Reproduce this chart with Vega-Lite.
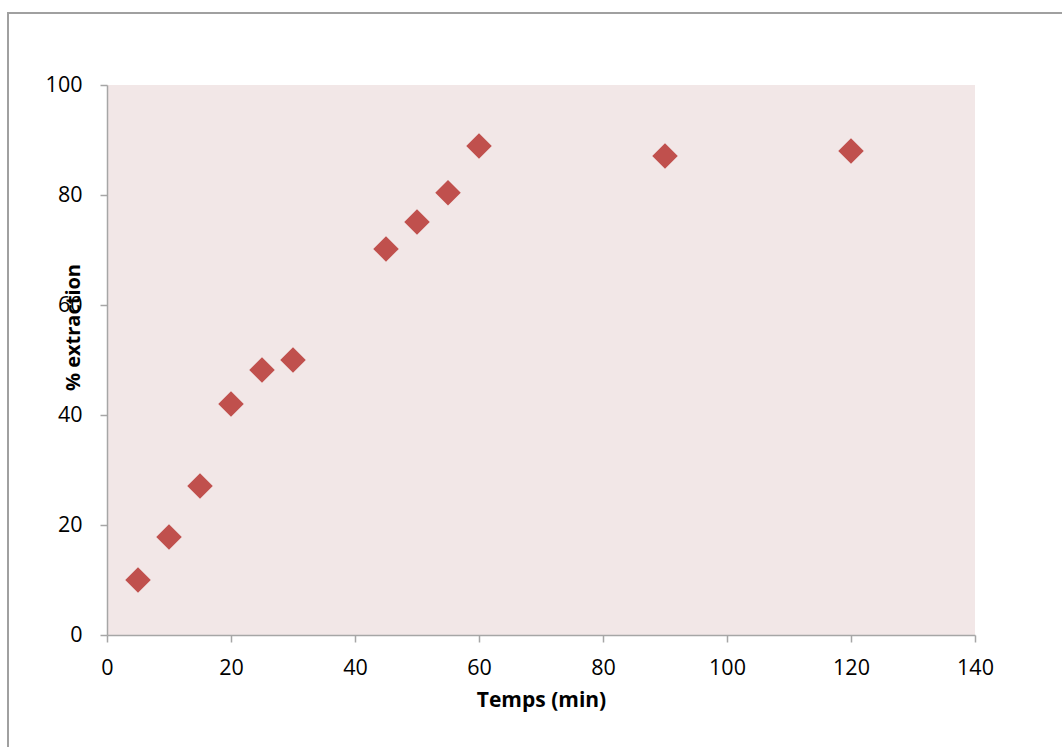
{
  "$schema": "https://vega.github.io/schema/vega-lite/v6.json",
  "autosize": "none",
  "width": 868,
  "height": 550,
  "padding": {"left": 107, "top": 85, "right": 87, "bottom": 112},
  "background": "#ffffff",
  "config": {
    "view": {"fill": "#F2E7E7", "stroke": null},
    "font": "Open Sans",
    "axis": {
      "grid": false,
      "labelFlush": false,
      "domainColor": "#A6A6A6",
      "domainWidth": 1.5,
      "tickColor": "#A6A6A6",
      "tickWidth": 1.5,
      "tickSize": 7,
      "labelFont": "Open Sans",
      "labelFontSize": 21.5,
      "labelColor": "#000000",
      "titleFont": "Open Sans",
      "titleFontSize": 20,
      "titleFontWeight": "bold",
      "titleColor": "#000000"
    }
  },
  "data": {
    "values": [
      {"temps": 5, "extraction": 10.0},
      {"temps": 10, "extraction": 17.8},
      {"temps": 15, "extraction": 27.1},
      {"temps": 20, "extraction": 42.0},
      {"temps": 25, "extraction": 48.2},
      {"temps": 30, "extraction": 50.0},
      {"temps": 45, "extraction": 70.2},
      {"temps": 50, "extraction": 75.1},
      {"temps": 55, "extraction": 80.4},
      {"temps": 60, "extraction": 88.9},
      {"temps": 90, "extraction": 87.1},
      {"temps": 120, "extraction": 88.0}
    ]
  },
  "layer": [
    {
      "mark": {"type": "rect", "fill": null, "stroke": "#A0A0A0", "strokeWidth": 1.5, "clip": false},
      "encoding": {
        "x": {"datum": -16, "type": "quantitative"},
        "x2": {"datum": 160},
        "y": {"datum": 113.1, "type": "quantitative"},
        "y2": {"datum": -25}
      }
    },
    {
      "mark": {"type": "point", "shape": "diamond", "filled": true, "color": "#C0504D", "size": 650, "opacity": 1},
      "encoding": {
        "x": {
          "field": "temps",
          "type": "quantitative",
          "scale": {"domain": [0, 140], "nice": false},
          "axis": {"values": [0, 20, 40, 60, 80, 100, 120, 140], "title": "Temps (min)", "titleFontSize": 21, "labelPadding": 15, "titlePadding": 11}
        },
        "y": {
          "field": "extraction",
          "type": "quantitative",
          "scale": {"domain": [0, 100], "nice": false},
          "axis": {
            "values": [0, 20, 40, 60, 80, 100],
            "title": "% extraction",
            "labelPadding": 18,
            "titleX": -34,
            "titleY": 242,
            "titleAngle": -90,
            "titleAlign": "center",
            "titleBaseline": "middle"
          }
        }
      }
    }
  ]
}
